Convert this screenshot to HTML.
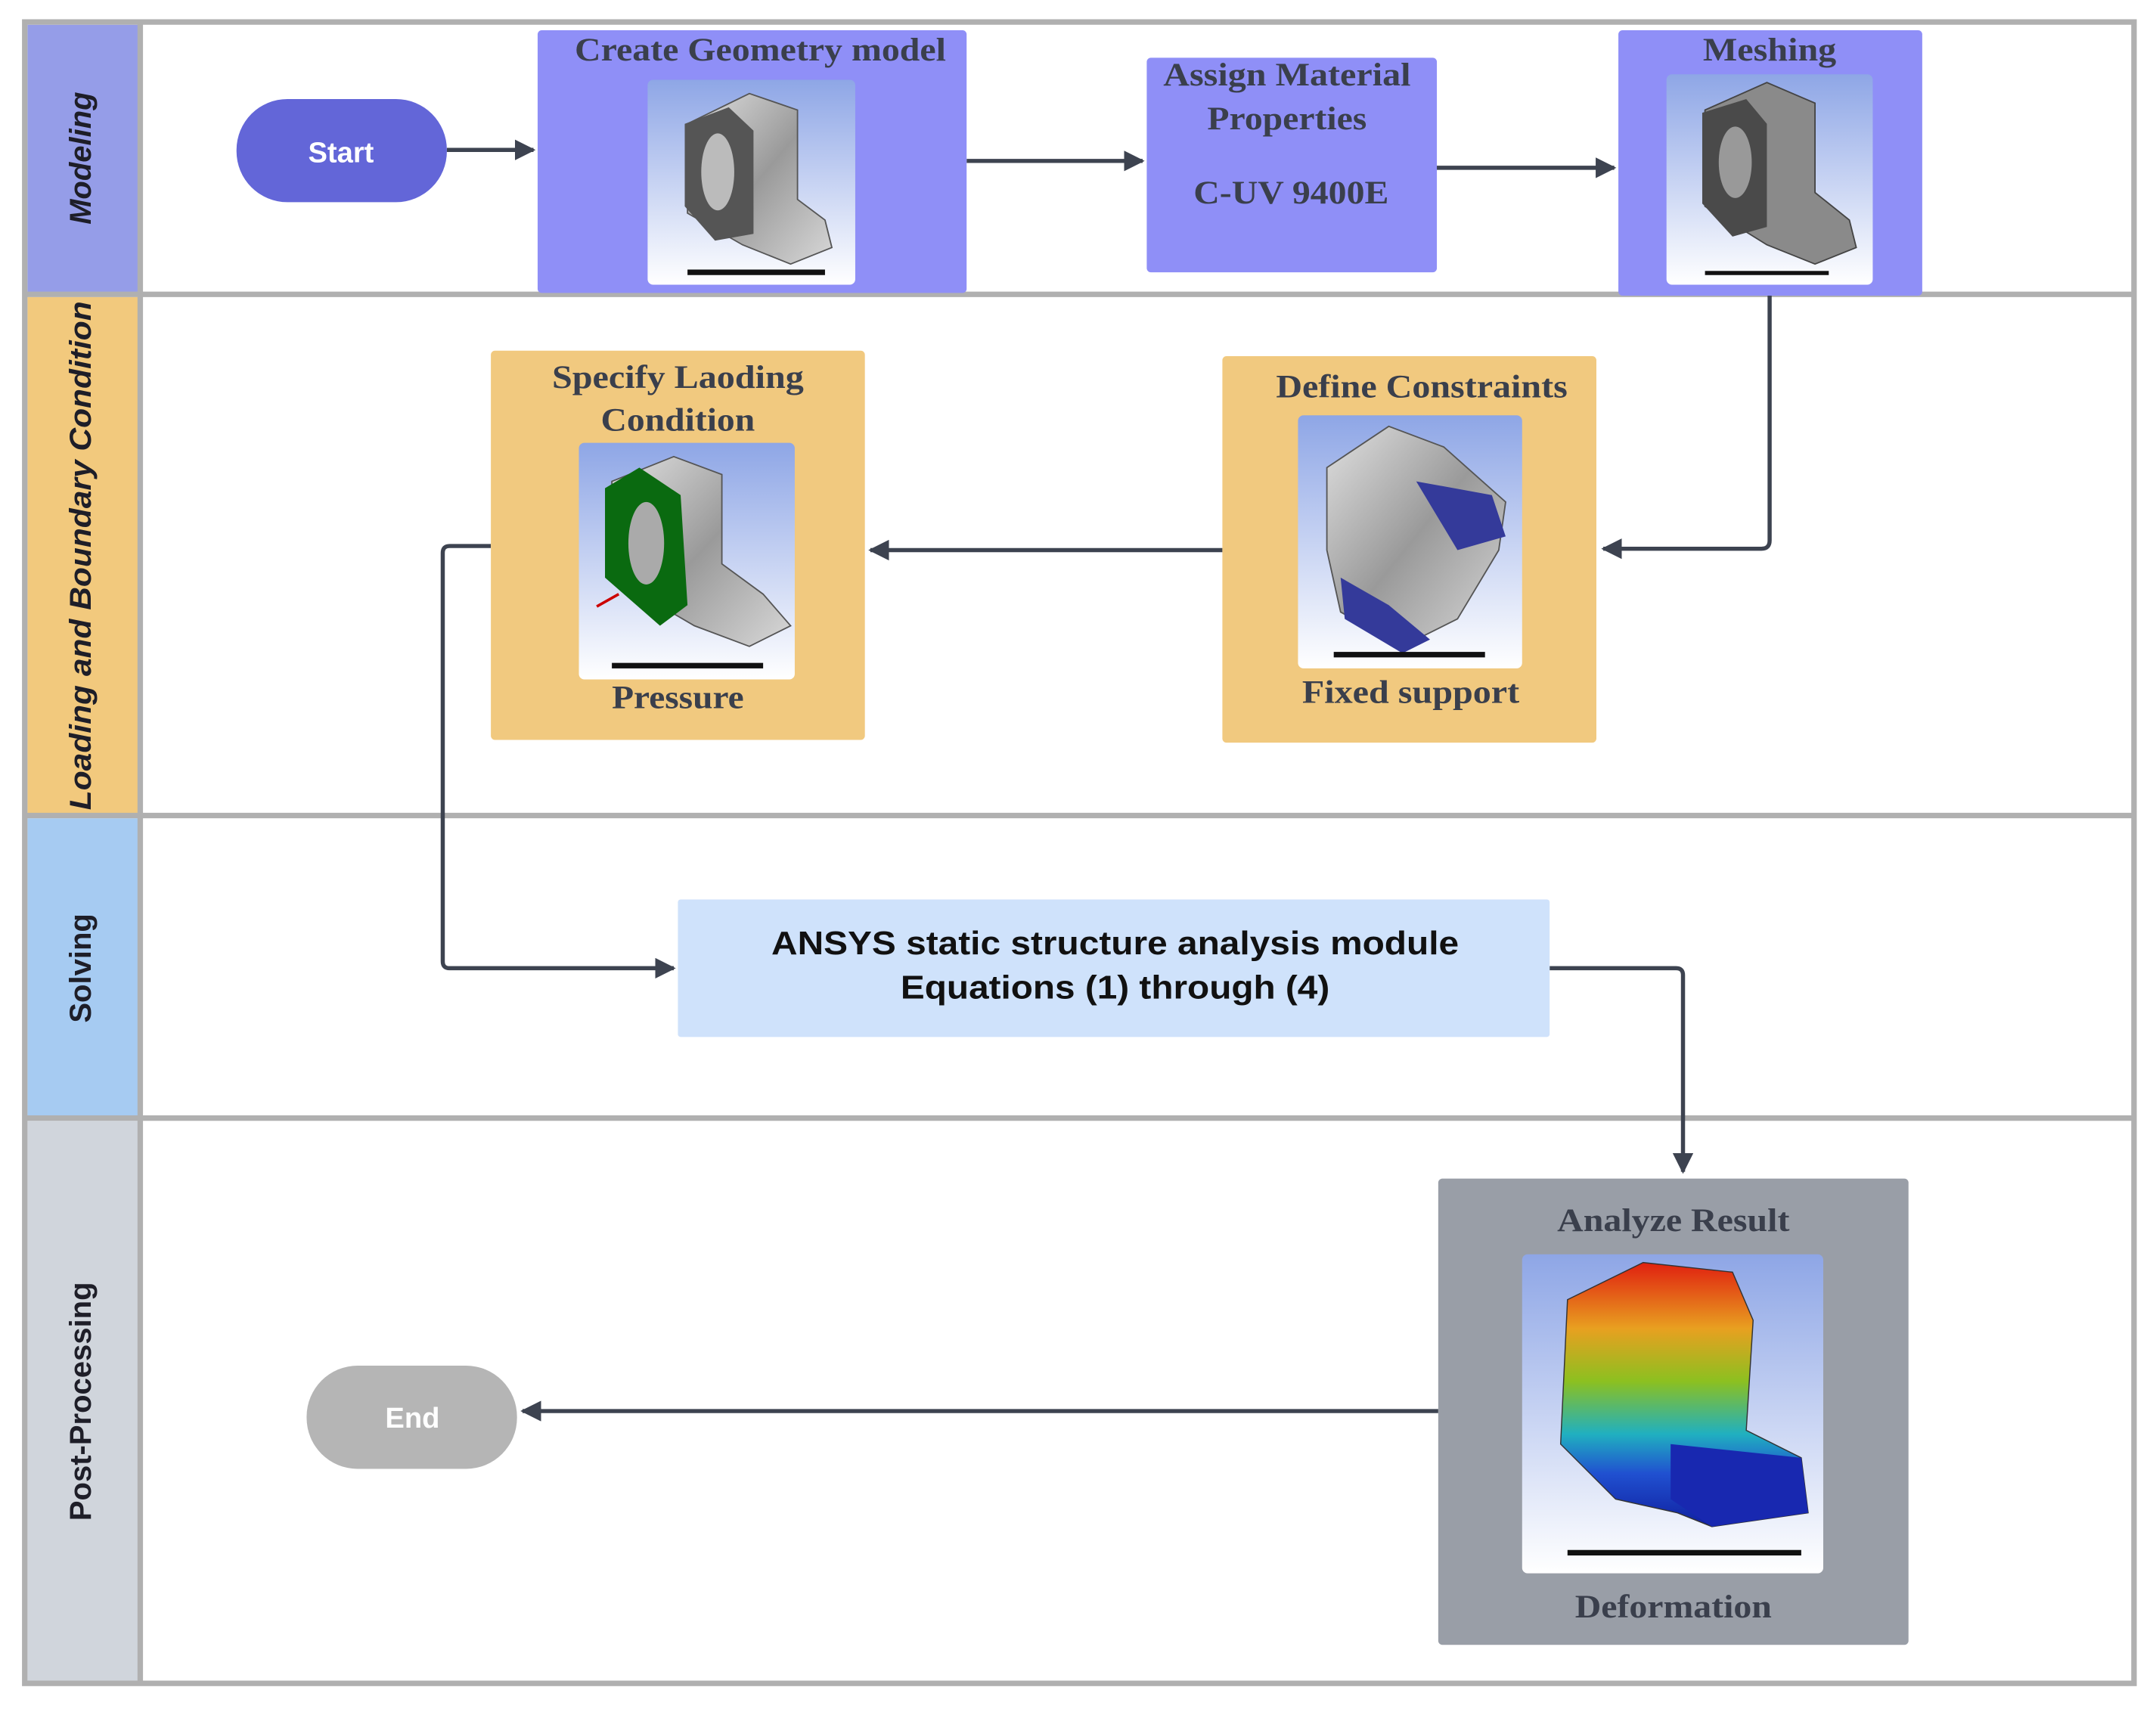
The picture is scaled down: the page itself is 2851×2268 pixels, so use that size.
<!DOCTYPE html>
<html><head><meta charset="utf-8"><style>html,body{margin:0;padding:0;background:#fff}svg{display:block}</style></head>
<body>
<svg width="2851" height="2268" viewBox="0 0 1568 1247" preserveAspectRatio="none" xmlns="http://www.w3.org/2000/svg">
<defs>
<linearGradient id="bg" x1="0" y1="0" x2="0" y2="1"><stop offset="0" stop-color="#8ea6e6"/><stop offset="1" stop-color="#ffffff"/></linearGradient>
<linearGradient id="metal" x1="0" y1="0" x2="1" y2="1"><stop offset="0" stop-color="#e0e0e0"/><stop offset="0.5" stop-color="#9a9a9a"/><stop offset="1" stop-color="#d8d8d8"/></linearGradient>
<linearGradient id="rain" x1="0" y1="0" x2="0" y2="1"><stop offset="0" stop-color="#e02010"/><stop offset="0.25" stop-color="#e8a020"/><stop offset="0.45" stop-color="#8cc020"/><stop offset="0.65" stop-color="#20b0c0"/><stop offset="0.8" stop-color="#2050d0"/><stop offset="1" stop-color="#1020a0"/></linearGradient>
<marker id="ah" viewBox="0 0 10 10" refX="9" refY="5" markerWidth="5" markerHeight="5" orient="auto-start-reverse"><path d="M0,0 L10,5 L0,10 z" fill="#3d4350"/></marker>
</defs>
<rect x="0" y="0" width="1568" height="1247" fill="#fff"/>
<!-- lane label colors -->
<rect x="20" y="18" width="82" height="196" fill="#959de8"/>
<rect x="20" y="216" width="82" height="377" fill="#f2c97d"/>
<rect x="20" y="595" width="82" height="218" fill="#a6cbf2"/>
<rect x="20" y="815" width="82" height="408" fill="#d0d5dc"/>
<!-- borders -->
<g fill="none" stroke="#b0b0b0" stroke-width="4">
<rect x="18" y="16" width="1534" height="1208"/>
<line x1="102" y1="16" x2="102" y2="1224"/>
<line x1="18" y1="214" x2="1552" y2="214"/>
<line x1="18" y1="593" x2="1552" y2="593"/>
<line x1="18" y1="813" x2="1552" y2="813"/>
</g>
<g font-family="Liberation Sans, sans-serif" font-weight="bold" font-style="italic" font-size="22" fill="#1e1e28" text-anchor="middle">
<text transform="translate(66,115) rotate(-90)">Modeling</text>
<text transform="translate(66,404) rotate(-90)" textLength="370" lengthAdjust="spacingAndGlyphs">Loading and Boundary Condition</text>
<text transform="translate(66,704) rotate(-90)" font-style="normal">Solving</text>
<text transform="translate(66,1019) rotate(-90)" font-style="normal">Post-Processing</text>
</g>
<!-- connectors -->
<g fill="none" stroke="#3d4350" stroke-width="3">
<line x1="325" y1="109" x2="388" y2="109" marker-end="url(#ah)"/>
<line x1="703" y1="117" x2="831" y2="117" marker-end="url(#ah)"/>
<line x1="1043" y1="122" x2="1174" y2="122" marker-end="url(#ah)"/>
<path d="M1287,215 V393 Q1287,399 1281,399 H1166" marker-end="url(#ah)"/>
<line x1="889" y1="400" x2="633" y2="400" marker-end="url(#ah)"/>
<path d="M357,397 H327 Q322,397 322,402 V699 Q322,704 327,704 H490" marker-end="url(#ah)"/>
<path d="M1127,704 H1219 Q1224,704 1224,709 V852" marker-end="url(#ah)"/>
<line x1="1046" y1="1026" x2="380" y2="1026" marker-end="url(#ah)"/>
</g>
<!-- Start / End -->
<rect x="172" y="72" width="153" height="75" rx="37" fill="#6366d8"/>
<text x="248" y="118" font-family="Liberation Sans, sans-serif" font-weight="bold" font-size="21" fill="#fff" text-anchor="middle">Start</text>
<rect x="223" y="993" width="153" height="75" rx="37" fill="#b5b5b5"/>
<text x="300" y="1038" font-family="Liberation Sans, sans-serif" font-weight="bold" font-size="21" fill="#fff" text-anchor="middle">End</text>
<!-- boxes -->
<rect x="391" y="22" width="312" height="191" rx="3" fill="#8f8ff7"/>
<rect x="834" y="42" width="211" height="156" rx="3" fill="#8f8ff7"/>
<rect x="1177" y="22" width="221" height="193" rx="3" fill="#8f8ff7"/>
<rect x="357" y="255" width="272" height="283" rx="3" fill="#f1c97f"/>
<rect x="889" y="259" width="272" height="281" rx="3" fill="#f1c97f"/>
<rect x="493" y="654" width="634" height="100" rx="2" fill="#cfe2fb"/>
<rect x="1046" y="857" width="342" height="339" rx="3" fill="#999ea7"/>
<!-- images -->
<rect x="471" y="58" width="151" height="149" rx="4" fill="url(#bg)"/>
<path d="M500,90 L545,68 L580,80 L580,145 L600,160 L605,180 L575,192 L540,178 L500,155 Z" fill="url(#metal)" stroke="#555" stroke-width="1"/>
<path d="M498,90 L530,78 L548,95 L548,170 L520,175 L498,150 Z" fill="#555"/>
<ellipse cx="522" cy="125" rx="12" ry="28" fill="#bbb"/>
<rect x="500" y="196" width="100" height="4" fill="#111"/>
<rect x="1212" y="54" width="150" height="153" rx="4" fill="url(#bg)"/>
<path d="M1240,80 L1285,60 L1320,75 L1320,140 L1345,160 L1350,180 L1320,192 L1285,178 L1240,150 Z" fill="#8a8a8a" stroke="#444" stroke-width="1"/>
<path d="M1238,82 L1270,72 L1285,90 L1285,165 L1260,172 L1238,148 Z" fill="#4a4a4a"/>
<ellipse cx="1262" cy="118" rx="12" ry="26" fill="#999"/>
<rect x="1240" y="197" width="90" height="3" fill="#111"/>
<rect x="421" y="322" width="157" height="172" rx="4" fill="url(#bg)"/>
<path d="M445,350 L490,332 L525,345 L525,410 L555,432 L575,455 L545,470 L505,455 L445,420 Z" fill="url(#metal)" stroke="#555" stroke-width="1"/>
<path d="M440,355 L465,340 L495,360 L500,440 L480,455 L440,420 Z" fill="#0a6a10"/>
<ellipse cx="470" cy="395" rx="13" ry="30" fill="#aaa"/>
<line x1="434" y1="441" x2="450" y2="432" stroke="#c00" stroke-width="2"/>
<rect x="445" y="482" width="110" height="4" fill="#111"/>
<rect x="944" y="302" width="163" height="184" rx="4" fill="url(#bg)"/>
<path d="M965,340 L1010,310 L1050,325 L1095,365 L1090,400 L1060,450 L1020,470 L975,445 L965,400 Z" fill="url(#metal)" stroke="#555" stroke-width="1"/>
<path d="M1030,350 L1085,360 L1095,390 L1060,400 Z" fill="#343a9a"/>
<path d="M975,420 L1010,440 L1040,465 L1020,475 L978,450 Z" fill="#343a9a"/>
<rect x="970" y="474" width="110" height="4" fill="#111"/>
<rect x="1107" y="912" width="219" height="232" rx="4" fill="url(#bg)"/>
<path d="M1140,945 L1195,918 L1260,925 L1275,960 L1270,1040 L1310,1060 L1315,1100 L1245,1110 L1220,1100 L1175,1090 L1135,1050 Z" fill="url(#rain)" stroke="#333" stroke-width="0.8"/>
<path d="M1215,1050 L1310,1060 L1315,1100 L1245,1110 L1215,1090 Z" fill="#1828b0"/>
<rect x="1140" y="1127" width="170" height="4" fill="#111"/>
<!-- titles -->
<g font-family="Liberation Serif, serif" font-weight="bold" font-size="24" fill="#3a3f4c" text-anchor="middle" lengthAdjust="spacingAndGlyphs">
<text x="553" y="44" textLength="270" lengthAdjust="spacingAndGlyphs">Create Geometry model</text>
<text x="936" y="62" textLength="180" lengthAdjust="spacingAndGlyphs">Assign Material</text>
<text x="936" y="94" textLength="116" lengthAdjust="spacingAndGlyphs">Properties</text>
<text x="939" y="148" textLength="142" lengthAdjust="spacingAndGlyphs">C-UV 9400E</text>
<text x="1287" y="44" textLength="97" lengthAdjust="spacingAndGlyphs">Meshing</text>
<text x="493" y="282" textLength="183" lengthAdjust="spacingAndGlyphs">Specify Laoding</text>
<text x="493" y="313" textLength="112" lengthAdjust="spacingAndGlyphs">Condition</text>
<text x="493" y="515" textLength="96" lengthAdjust="spacingAndGlyphs">Pressure</text>
<text x="1034" y="289" textLength="212" lengthAdjust="spacingAndGlyphs">Define Constraints</text>
<text x="1026" y="511" textLength="158" lengthAdjust="spacingAndGlyphs">Fixed support</text>
<text x="1217" y="895" textLength="169" lengthAdjust="spacingAndGlyphs">Analyze Result</text>
<text x="1217" y="1176" textLength="143" lengthAdjust="spacingAndGlyphs">Deformation</text>
</g>
<g font-family="Liberation Sans, sans-serif" font-weight="bold" font-size="24" fill="#111" text-anchor="middle">
<text x="811" y="694" textLength="500" lengthAdjust="spacingAndGlyphs">ANSYS static structure analysis module</text>
<text x="811" y="726" textLength="312" lengthAdjust="spacingAndGlyphs">Equations (1) through (4)</text>
</g>
</svg>
</body></html>
